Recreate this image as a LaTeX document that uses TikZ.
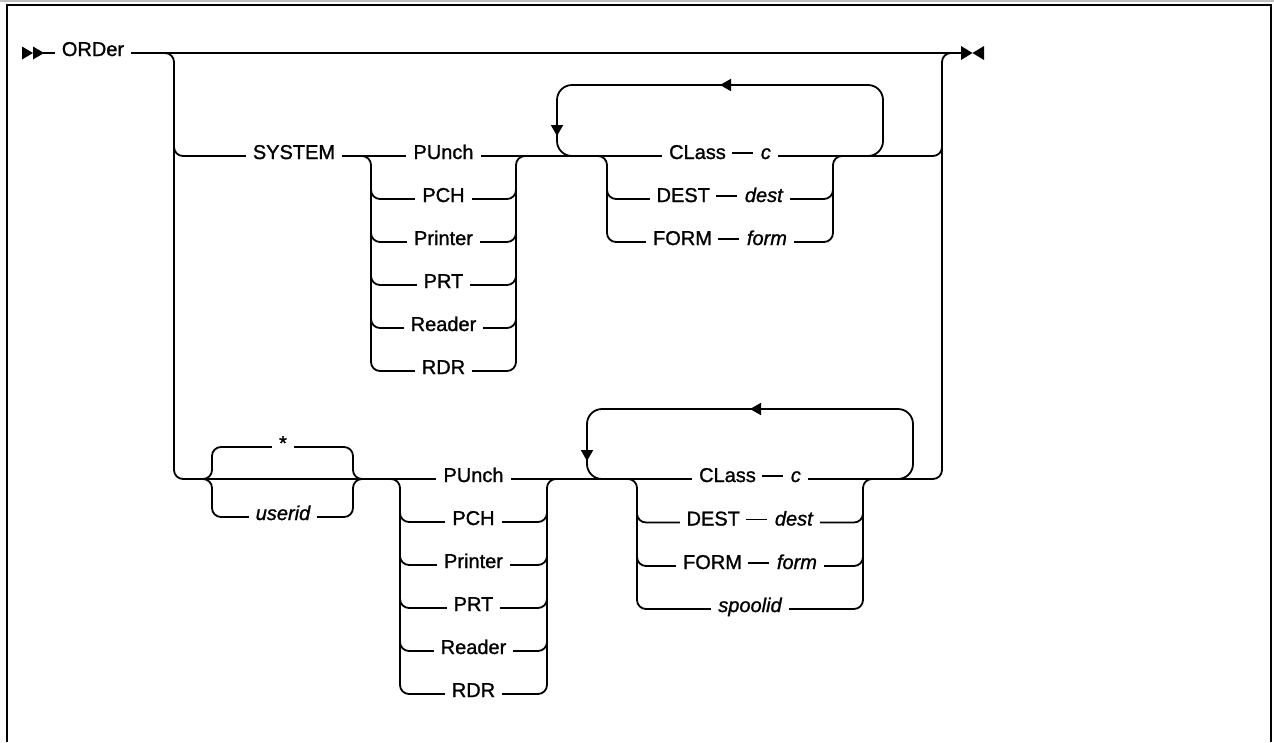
\documentclass[tikz,border=0pt]{standalone}
\usepackage{fontspec}
\setmainfont{Liberation Sans}[RawFeature={embolden=1.2}]
\usetikzlibrary{arrows.meta}
\tikzset{
  rail/.style={line width=1.8pt, rounded corners=9pt},
  lp/.style={line width=1.8pt, rounded corners=15pt},
  kw/.style={fill=white, inner xsep=7pt, inner ysep=0pt, text height=0.85em,
    text depth=0.25em, font=\fontsize{20}{24}\selectfont},
  var/.style={kw, font=\fontsize{20}{24}\selectfont\itshape},
  back/.style={line width=1.8pt, -{Triangle[length=11pt, width=12pt]}},
}
\newcommand{\kwdash}{\hspace{6pt}\rule[\dimexpr0.3em-0.9pt\relax]{21pt}{1.8pt}\hspace{8pt}}
% left x, right x, top y, lower rows
\newcommand{\stack}[4]{%
  \draw[rail] (#1-20,#3) -- (#1,#3) -- (#1,#3+20);
  \draw[rail] (#2,#3+20) -- (#2,#3) -- (#2+20,#3);
  \foreach \y in {#4} \draw[rail] (#1,#3+10) -- (#1,\y) -- (#2,\y) -- (#2,#3+10);
}

\begin{document}
\begin{tikzpicture}[x=1pt, y=-1pt]
\useasboundingbox (0,0) rectangle (1274,742);

% ── Marco ───────────────────────────────────────────────────
\draw[black!25, line width=2pt] (0,1) -- (1274,1);
\draw[line width=1.8pt] (7,742) -- (7,5) -- (1271,5) -- (1271,742);

% ── Linea principal ─────────────────────────────────────────
\fill (22,46.5) -- (33,53) -- (22,59.5) -- cycle;
\fill (33,46.5) -- (44,53) -- (33,59.5) -- cycle;
\draw[rail] (43,53) -- (962,53);
\node[kw] (order) at (93,53) {ORDer};
\fill (961,46) -- (972.5,53) -- (961,60) -- cycle;
\fill (984,46) -- (972.5,53) -- (984,60) -- cycle;

% ── Ramas ───────────────────────────────────────────────────
\draw[rail] (150,53) -- (174,53) -- (174,479) -- (200,479);
\draw[rail] (174,120) -- (174,156) -- (200,156);
\draw[rail] (920,156) -- (942,156) -- (942,53) -- (962,53);
\draw[rail] (920,479) -- (942,479) -- (942,140);

% ── SYSTEM ──────────────────────────────────────────────────
\draw[rail] (184,156) -- (932,156);
\node[kw] (sys) at (294,156) {SYSTEM};

\stack{371}{516}{156}{199,242,285,328,371}
\node[kw] (pu1) at (443.5,156) {PUnch};
\node[kw] (pc1) at (443.5,199) {PCH};
\node[kw] (pr1) at (443.5,242) {Printer};
\node[kw] (pt1) at (443.5,285) {PRT};
\node[kw] (re1) at (443.5,328) {Reader};
\node[kw] (rd1) at (443.5,371) {RDR};

\draw[lp] (860,156) -- (883,156) -- (883,85) -- (557,85) -- (557,156) -- (580,156);
\draw[back] (770,85) -- (720,85);
\draw[back] (557,105) -- (557,136);

\stack{607}{833}{156}{199,242}
\node[kw] (cl1) at (720,156) {CLass\kwdash\textit{c}};
\node[kw] (de1) at (720,199) {DEST\kwdash\textit{dest}};
\node[kw] (fo1) at (720,242) {FORM\kwdash\textit{form}};

% ── userid ──────────────────────────────────────────────────
\draw[rail] (184,479) -- (932,479);
\draw[rail] (200,479) -- (212,479) -- (212,447) -- (230,447);
\draw[rail] (200,479) -- (212,479) -- (212,517) -- (230,517);
\draw[rail] (230,447) -- (353,447) -- (353,479) -- (370,479);
\draw[rail] (230,517) -- (353,517) -- (353,479) -- (370,479);
\node[kw] (star) at (283,447) {*};
\node[var] (uid) at (283,517) {userid};

\stack{400}{547}{479}{522,565,608,651,694}
\node[kw] (pu2) at (473.5,479) {PUnch};
\node[kw] (pc2) at (473.5,522) {PCH};
\node[kw] (pr2) at (473.5,565) {Printer};
\node[kw] (pt2) at (473.5,608) {PRT};
\node[kw] (re2) at (473.5,651) {Reader};
\node[kw] (rd2) at (473.5,694) {RDR};

\draw[lp] (890,479) -- (913,479) -- (913,409) -- (587,409) -- (587,479) -- (610,479);
\draw[back] (800,409) -- (750,409);
\draw[back] (587,430) -- (587,461);

\stack{637}{863}{479}{522.5,566,609}
\node[kw] (cl2) at (750,479) {CLass\kwdash\textit{c}};
\node[kw] (de2) at (750,522.5) {DEST\kwdash\textit{dest}};
\node[kw] (fo2) at (750,566) {FORM\kwdash\textit{form}};
\node[var] (sp2) at (750,609) {spoolid};

\end{tikzpicture}
\end{document}
